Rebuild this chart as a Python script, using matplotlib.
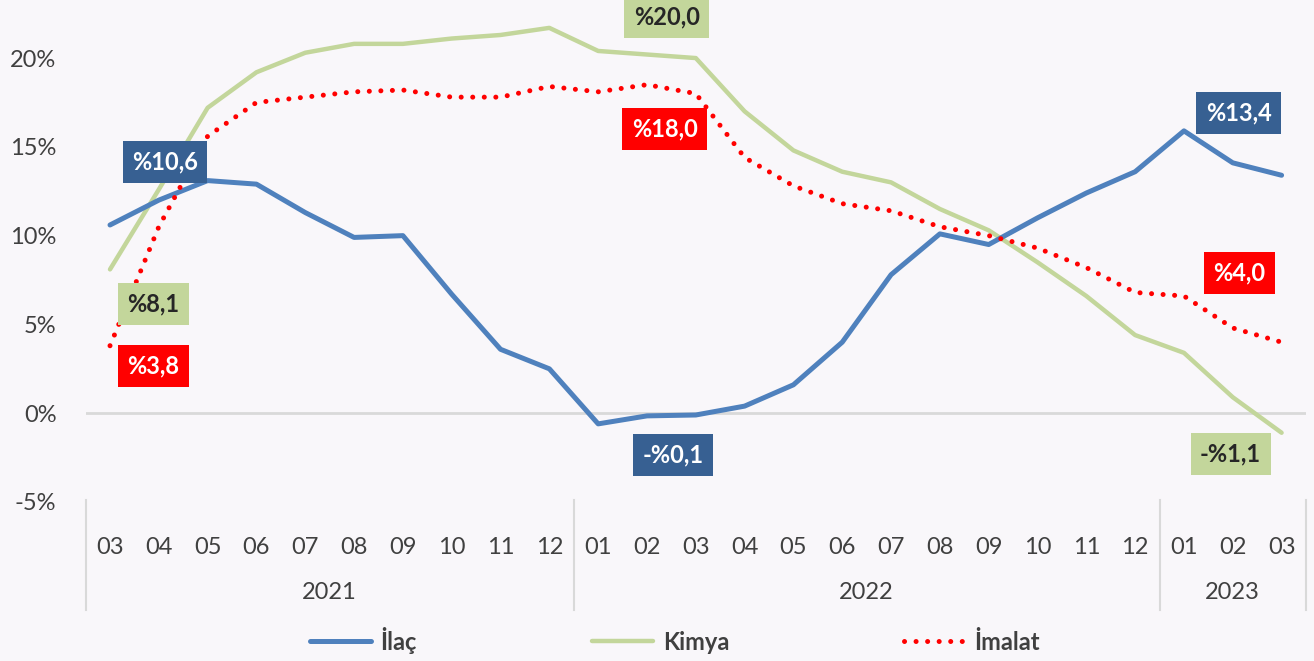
import matplotlib
matplotlib.use('Agg')
import matplotlib.pyplot as plt
import matplotlib.transforms as mtransforms

plt.rcParams['font.family'] = ['Lato', 'DejaVu Sans']

# months 2021-03 .. 2023-03
months = ['03', '04', '05', '06', '07', '08', '09', '10', '11', '12',
          '01', '02', '03', '04', '05', '06', '07', '08', '09', '10', '11', '12',
          '01', '02', '03']
years = ['2021', '2022', '2023']
year_counts = [10, 12, 3]

ilac = [10.6, 12.0, 13.1, 12.9, 11.3, 9.9, 10.0, 6.7, 3.6, 2.5,
        -0.6, -0.15, -0.1, 0.4, 1.6, 4.0, 7.8, 10.1, 9.5, 11.0, 12.4, 13.6,
        15.9, 14.1, 13.4]
kimya = [8.1, 12.6, 17.2, 19.2, 20.3, 20.8, 20.8, 21.1, 21.3, 21.7,
         20.4, 20.2, 20.0, 17.0, 14.8, 13.6, 13.0, 11.5, 10.3, 8.5, 6.6, 4.4,
         3.4, 0.9, -1.1]
imalat = [3.8, 10.5, 15.6, 17.5, 17.8, 18.1, 18.2, 17.8, 17.8, 18.4,
          18.1, 18.5, 18.0, 14.4, 12.8, 11.8, 11.4, 10.5, 10.0, 9.3, 8.2, 6.8,
          6.6, 4.8, 4.0]

c_ilac = '#4F81BD'
c_kimya = '#C3D69B'
c_imalat = '#FF0000'
c_navy = '#376092'
bg = '#F9F7FA'
txt = '#404040'

fig = plt.figure(figsize=(13.14, 6.61), dpi=100, facecolor=bg)
ax = fig.add_axes([85.6 / 1314, 1 - 502 / 661, (1306 - 85.6) / 1314, 502 / 661])
ax.set_facecolor(bg)

x = list(range(len(months)))
ax.plot(x, ilac, color=c_ilac, lw=3.6, label='İlaç', solid_capstyle='round', zorder=4)
ax.plot(x, kimya, color=c_kimya, lw=3.2, label='Kimya', solid_capstyle='round', zorder=3)
ax.plot(x, imalat, color=c_imalat, lw=3.6, linestyle=(0, (0.01, 2.3)),
        dash_capstyle='round', label='İmalat', zorder=5)

ax.axhline(0, color='#D9D9D9', lw=2, zorder=1)
ax.set_xlim(-0.5, len(months) - 0.5)
ax.set_ylim(-5, 23.27)
ax.set_yticks([-5, 0, 5, 10, 15, 20])
ax.set_yticklabels(['-5%', '0%', '5%', '10%', '15%', '20%'])
ax.tick_params(axis='y', length=0, pad=21, labelsize=17, labelcolor=txt)
ax.set_xticks([])
for s in ax.spines.values():
    s.set_visible(False)

# multi-level category axis
trans = mtransforms.blended_transform_factory(ax.transData, ax.transAxes)
for i, m in enumerate(months):
    ax.text(i, -0.0916, m, transform=trans, ha='center', va='center',
            fontsize=17, color=txt)
start = 0
bounds = [-0.5]
for yname, n in zip(years, year_counts):
    ax.text(start + (n - 1) / 2, -0.181, yname, transform=trans, ha='center',
            va='center', fontsize=17, color=txt)
    start += n
    bounds.append(start - 0.5)
for b in bounds:
    ax.plot([b, b], [0.004, -0.215], transform=trans, color='#D9D9D9', lw=1.5,
            clip_on=False)

# data labels (offsets in points)
labels = [
    (0, ilac[0], '%10,6', c_navy, 'white', (39.6, 45.4)),
    (0, kimya[0], '%8,1', c_kimya, '#262626', (31, -25.2)),
    (0, imalat[0], '%3,8', c_imalat, 'white', (31, -14.4)),
    (12, kimya[12], '%20,0', c_kimya, '#262626', (-20.9, 29.5)),
    (12, imalat[12], '%18,0', c_imalat, 'white', (-22.3, -25.2)),
    (12, ilac[12], '-%0,1', c_navy, 'white', (-16.6, -28.8)),
    (24, ilac[24], '%13,4', c_navy, 'white', (-31, 44.6)),
    (24, imalat[24], '%4,0', c_imalat, 'white', (-30.2, 49.7)),
    (24, kimya[24], '-%1,1', c_kimya, '#262626', (-36.7, -15.1)),
]
for xi, yi, t, fc, tc, off in labels:
    ax.annotate(t, (xi, yi), xytext=off, textcoords='offset points',
                ha='center', va='center', fontsize=17, fontweight='bold', color=tc,
                bbox=dict(boxstyle='square,pad=0.4', fc=fc, ec='none'), zorder=6,
                annotation_clip=False)

leg = fig.legend(loc='center', bbox_to_anchor=(675 / 1314, 1 - 640 / 661), ncol=3,
                 frameon=False, handlelength=2.6, columnspacing=7.4, handletextpad=0.4,
                 prop={'size': 17, 'weight': 'bold'})
for t in leg.get_texts():
    t.set_color(txt)

fig.savefig('out.png', dpi=100, facecolor=bg)
